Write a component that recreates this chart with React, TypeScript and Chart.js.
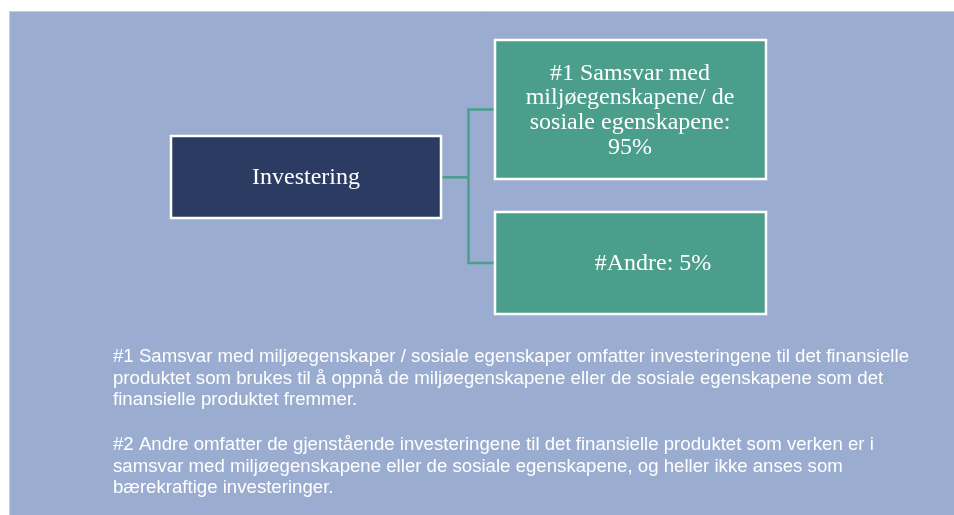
import { useEffect, useRef } from "react";
import { Chart, registerables } from "chart.js";

Chart.register(...registerables);

// ---------- data ----------
const rootLabel = "Investering";
const branchLabelLines = [
  ["#1 Samsvar med", "miljøegenskapene/ de", "sosiale egenskapene:"],
  ["#Andre:"],
];
const branchShares = [95, 5];
const footnote1Lines = [
  "#1 Samsvar med miljøegenskaper / sosiale egenskaper omfatter investeringene til det finansielle",
  "produktet som brukes til å oppnå de miljøegenskapene eller de sosiale egenskapene som det",
  "finansielle produktet fremmer.",
];
const footnote2Lines = [
  "#2 Andre omfatter de gjenstående investeringene til det finansielle produktet som verken er i",
  "samsvar med miljøegenskapene eller de sosiale egenskapene, og heller ikke anses som",
  "bærekraftige investeringer.",
];

// ---------- layout (positions / sizes / styles) ----------
const W = 954;
const H = 515;
const panel = { x0: 9, y0: 11, x1: 954, y1: 515 };
const rootBox = { x0: 171, y0: 136, x1: 441, y1: 218, baseline: 184 };
const branchBoxes = [
  { x0: 495, y0: 40, x1: 766, y1: 179, cx: 630, firstBaseline: 79.5, step: 24.7, inline: false },
  { x0: 495, y0: 212, x1: 766, y1: 314, cx: 653, firstBaseline: 270, step: 24.7, inline: true },
];
const connectorX = 468.5;
const rootMidY = 177.3;
const branchMidYs = [109.5, 263];
const footnoteX = 113;
const footnoteFirstLineWidth = 796;
const footnote1Baseline = 362;
const footnote2Baseline = 450;
const footnoteStep = 21.6;

const colors = {
  page: "#ffffff",
  panel: "#9aadd0",
  panelEdge: "#c4cfe3",
  root: "#2b3b61",
  branch: "#4a9e8b",
  connector: "#4a9e8b",
  border: "#ffffff",
  text: "#ffffff",
};
const boxFont = "24px 'Liberation Serif', serif";
const noteFont = "17.5px 'Liberation Sans', Arial, sans-serif";

function branchTextLines(i: number): string[] {
  const lines = branchLabelLines[i];
  const share = `${branchShares[i]}%`;
  if (branchBoxes[i].inline) return [`${lines.join(" ")} ${share}`];
  return [...lines, share];
}

const diagramPlugin = {
  id: "diagram",
  beforeDatasetsDraw(chart: any) {
    const { ctx, scales } = chart;
    const px = (v: number) => scales.x.getPixelForValue(v);
    const py = (v: number) => scales.y.getPixelForValue(v);
    ctx.save();
    ctx.fillStyle = colors.page;
    ctx.fillRect(0, 0, W, H);
    ctx.fillStyle = colors.panel;
    ctx.fillRect(px(panel.x0), py(panel.y0), px(panel.x1) - px(panel.x0), py(panel.y1) - py(panel.y0));
    ctx.strokeStyle = colors.panelEdge;
    ctx.lineWidth = 1;
    ctx.beginPath();
    ctx.moveTo(px(panel.x0) + 0.5, py(panel.y1));
    ctx.lineTo(px(panel.x0) + 0.5, py(panel.y0) + 0.5);
    ctx.lineTo(px(panel.x1), py(panel.y0) + 0.5);
    ctx.stroke();
    ctx.restore();
  },
  afterDatasetsDraw(chart: any) {
    const { ctx, scales } = chart;
    const px = (v: number) => scales.x.getPixelForValue(v);
    const py = (v: number) => scales.y.getPixelForValue(v);
    const drawBox = (b: any, fill: string) => {
      const x = px(b.x0), y = py(b.y0), w = px(b.x1) - x, h = py(b.y1) - y;
      ctx.fillStyle = fill;
      ctx.fillRect(x, y, w, h);
      ctx.strokeStyle = colors.border;
      ctx.lineWidth = 2.5;
      ctx.strokeRect(x, y, w, h);
    };
    ctx.save();
    drawBox(rootBox, colors.root);
    branchBoxes.forEach((b) => drawBox(b, colors.branch));

    ctx.fillStyle = colors.text;
    ctx.font = boxFont;
    ctx.textAlign = "center";
    ctx.textBaseline = "alphabetic";
    ctx.fillText(rootLabel, px((rootBox.x0 + rootBox.x1) / 2), py(rootBox.baseline));
    branchBoxes.forEach((b, i) => {
      branchTextLines(i).forEach((line, j) => {
        ctx.fillText(line, px(b.cx), py(b.firstBaseline + j * b.step));
      });
    });

    ctx.font = noteFont;
    ctx.textAlign = "left";
    const sx = footnoteFirstLineWidth / ctx.measureText(footnote1Lines[0]).width;
    const drawNote = (line: string, baseline: number) => {
      ctx.save();
      ctx.translate(px(footnoteX), py(baseline));
      ctx.scale(sx, 1);
      ctx.fillText(line, 0, 0);
      ctx.restore();
    };
    footnote1Lines.forEach((line, j) => drawNote(line, footnote1Baseline + j * footnoteStep));
    footnote2Lines.forEach((line, j) => drawNote(line, footnote2Baseline + j * footnoteStep));
    ctx.restore();
  },
};

export default function App() {
  const ref = useRef<HTMLCanvasElement | null>(null);
  useEffect(() => {
    if (!ref.current) return;
    const chart = new Chart(ref.current, {
      type: "scatter",
      data: {
        datasets: [
          {
            data: [
              { x: rootBox.x1, y: rootMidY },
              { x: connectorX, y: rootMidY },
            ],
            showLine: true,
            borderColor: colors.connector,
            borderWidth: 2.5,
            pointRadius: 0,
          },
          {
            data: [
              { x: branchBoxes[0].x0, y: branchMidYs[0] },
              { x: connectorX, y: branchMidYs[0] },
              { x: connectorX, y: branchMidYs[1] },
              { x: branchBoxes[1].x0, y: branchMidYs[1] },
            ],
            showLine: true,
            borderColor: colors.connector,
            borderWidth: 2.5,
            pointRadius: 0,
          },
        ],
      },
      options: {
        responsive: false,
        animation: false,
        layout: { padding: 0 },
        plugins: { legend: { display: false }, tooltip: { enabled: false } },
        scales: {
          x: { type: "linear", min: 0, max: W, display: false },
          y: { type: "linear", min: 0, max: H, reverse: true, display: false },
        },
      },
      plugins: [diagramPlugin],
    });
    return () => chart.destroy();
  }, []);
  return (
    <div style={{ position: "fixed", left: 0, top: 0, width: W, height: H, background: "#fff" }}>
      <canvas ref={ref} width={W} height={H} style={{ display: "block", width: W, height: H }} />
    </div>
  );
}
